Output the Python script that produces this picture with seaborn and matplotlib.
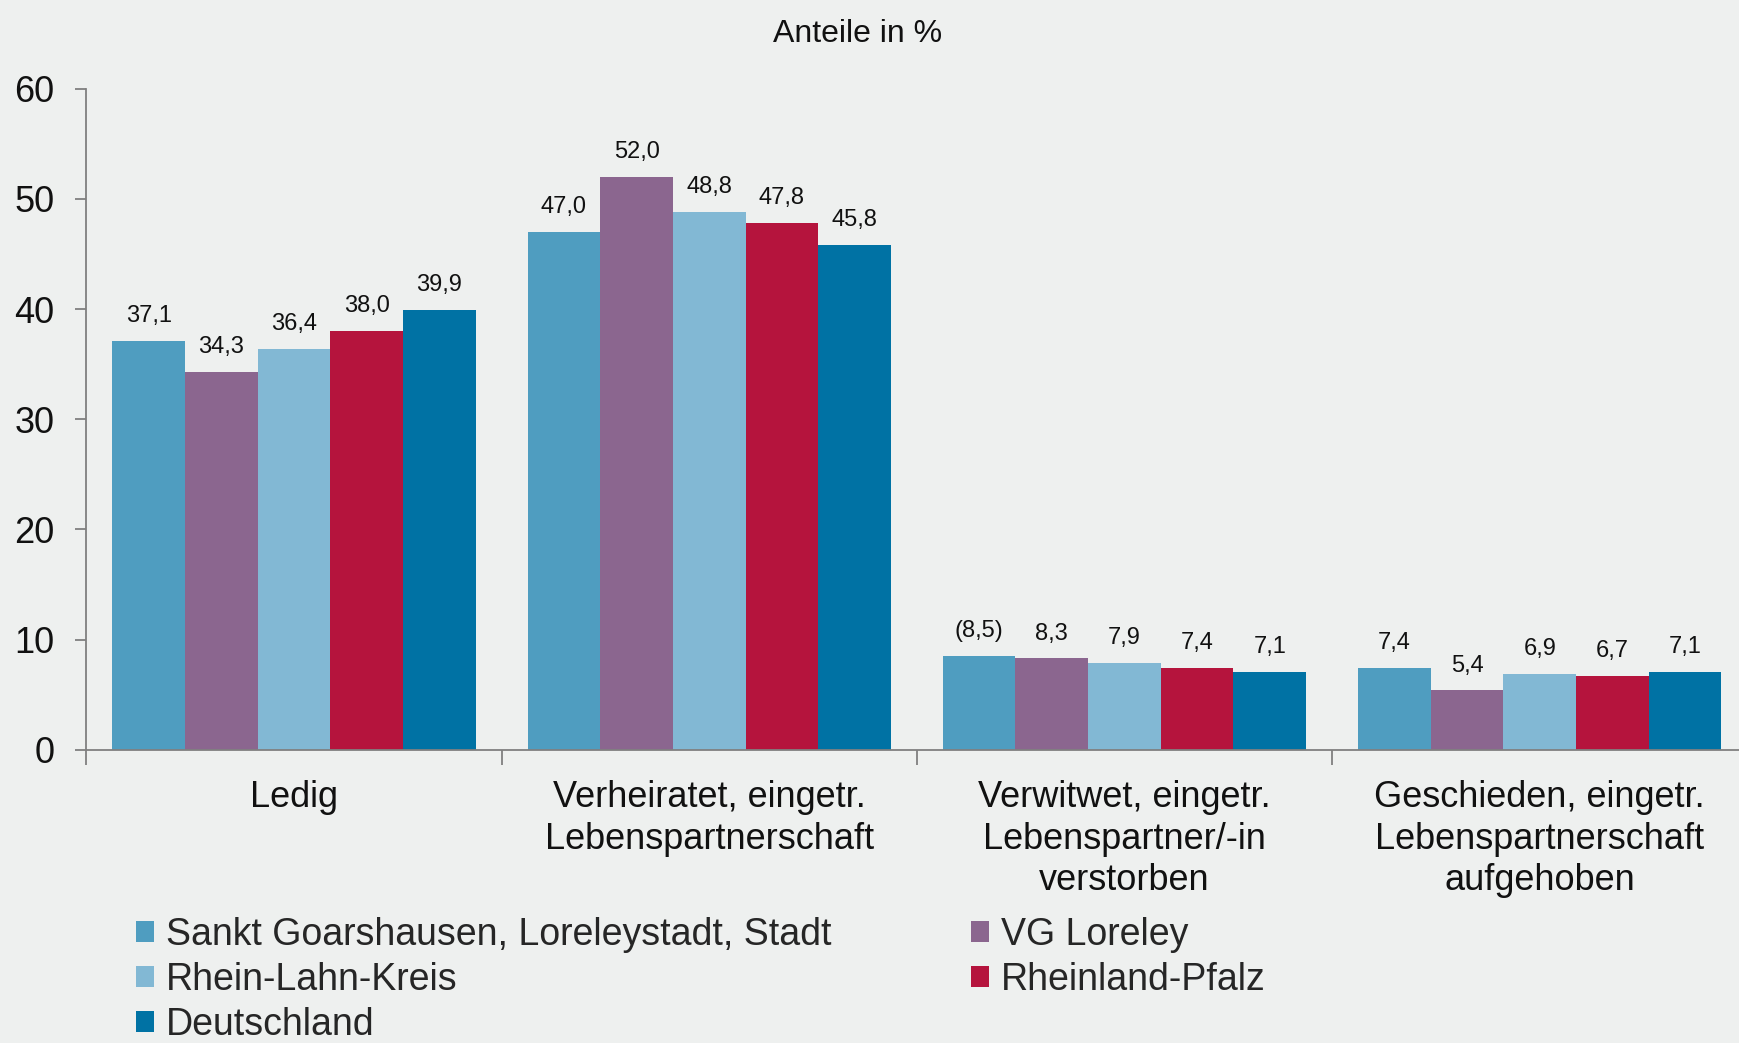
import matplotlib
matplotlib.use("Agg")
import matplotlib.pyplot as plt
import pandas as pd
import seaborn as sns

KATEGORIEN = [
    "Ledig",
    "Verheiratet, eingetr.\nLebenspartnerschaft",
    "Verwitwet, eingetr.\nLebenspartner/-in\nverstorben",
    "Geschieden, eingetr.\nLebenspartnerschaft\naufgehoben",
]
GEBIETE = [
    "Sankt Goarshausen, Loreleystadt, Stadt",
    "VG Loreley",
    "Rhein-Lahn-Kreis",
    "Rheinland-Pfalz",
    "Deutschland",
]
FARBEN = ["#4f9dc0", "#8b668f", "#82b8d4", "#b5143d", "#0072a4"]

SANKT_GOARSHAUSEN = [37.1, 47.0, 8.5, 7.4]
VG_LORELEY = [34.3, 52.0, 8.3, 5.4]
RHEIN_LAHN = [36.4, 48.8, 7.9, 6.9]
RHEINLAND_PFALZ = [38.0, 47.8, 7.4, 6.7]
DEUTSCHLAND = [39.9, 45.8, 7.1, 7.1]
# eingeklammerte Werte (statistisch unsicher)
KLAMMER = {(0, 2)}

WERTE = [SANKT_GOARSHAUSEN, VG_LORELEY, RHEIN_LAHN, RHEINLAND_PFALZ, DEUTSCHLAND]

BG = "#eef0ef"
GRAU = "#808080"


def main() -> None:
    rows = []
    for gebiet, werte in zip(GEBIETE, WERTE):
        for kat, w in zip(KATEGORIEN, werte):
            rows.append({"Familienstand": kat, "Gebiet": gebiet, "Anteil": w})
    df = pd.DataFrame(rows)

    sns.set_theme(style="white")
    plt.rcParams["font.family"] = ["Liberation Sans", "DejaVu Sans"]

    fig = plt.figure(figsize=(17.39, 10.43), dpi=100, facecolor=BG)
    ax = fig.add_axes([0.0497, 0.281, 0.9503, 0.634])
    ax.set_facecolor(BG)

    sns.barplot(
        data=df, x="Familienstand", y="Anteil", hue="Gebiet",
        order=KATEGORIEN, hue_order=GEBIETE, palette=FARBEN,
        width=0.875, gap=0, saturation=1, linewidth=0, ax=ax,
    )

    for i, cont in enumerate(ax.containers):
        labels = []
        for j, w in enumerate(WERTE[i]):
            s = f"{w:.1f}".replace(".", ",")
            if (i, j) in KLAMMER:
                s = f"({s})"
            labels.append(s)
        ax.bar_label(cont, labels=labels, padding=10, fontsize=17, color="#111111")

    ax.set_ylim(0, 60)
    ax.set_xlim(-0.5, 3.48)
    ax.set_yticks(range(0, 61, 10))
    ax.tick_params(axis="y", length=8, width=1.3, color=GRAU, labelsize=26,
                   pad=15, left=True, labelcolor="#111111")
    ax.tick_params(axis="x", which="major", length=0, labelsize=26, pad=22,
                   labelcolor="#111111")
    ax.set_xticks([-0.5, 0.5, 1.5, 2.5], minor=True)
    ax.tick_params(axis="x", which="minor", length=11, width=1.3, color=GRAU,
                   bottom=True)
    for lbl in ax.get_xticklabels():
        lbl.set_linespacing(1.24)
    ax.set_xlabel("")
    ax.set_ylabel("")
    for side in ["top", "right"]:
        ax.spines[side].set_visible(False)
    for side in ["left", "bottom"]:
        ax.spines[side].set_color(GRAU)
        ax.spines[side].set_linewidth(1.3)

    fig.text(0.493, 0.967, "Anteile in %", ha="center", va="center",
             fontsize=23, color="#111111")

    handles, labels = ax.get_legend_handles_labels()
    ax.get_legend().remove()
    order = [0, 2, 4, 1, 3]
    fig.legend(
        [handles[k] for k in order], [labels[k] for k in order],
        ncol=2, loc="upper left", bbox_to_anchor=(0.078, 0.121),
        frameon=False, fontsize=27, handlelength=0.5, handleheight=0.5,
        handletextpad=0.3, columnspacing=3.72, labelspacing=0.24,
        borderaxespad=0, borderpad=0,
    )

    fig.savefig("out.png", dpi=100, facecolor=BG)
    plt.close(fig)


if __name__ == "__main__":
    main()
